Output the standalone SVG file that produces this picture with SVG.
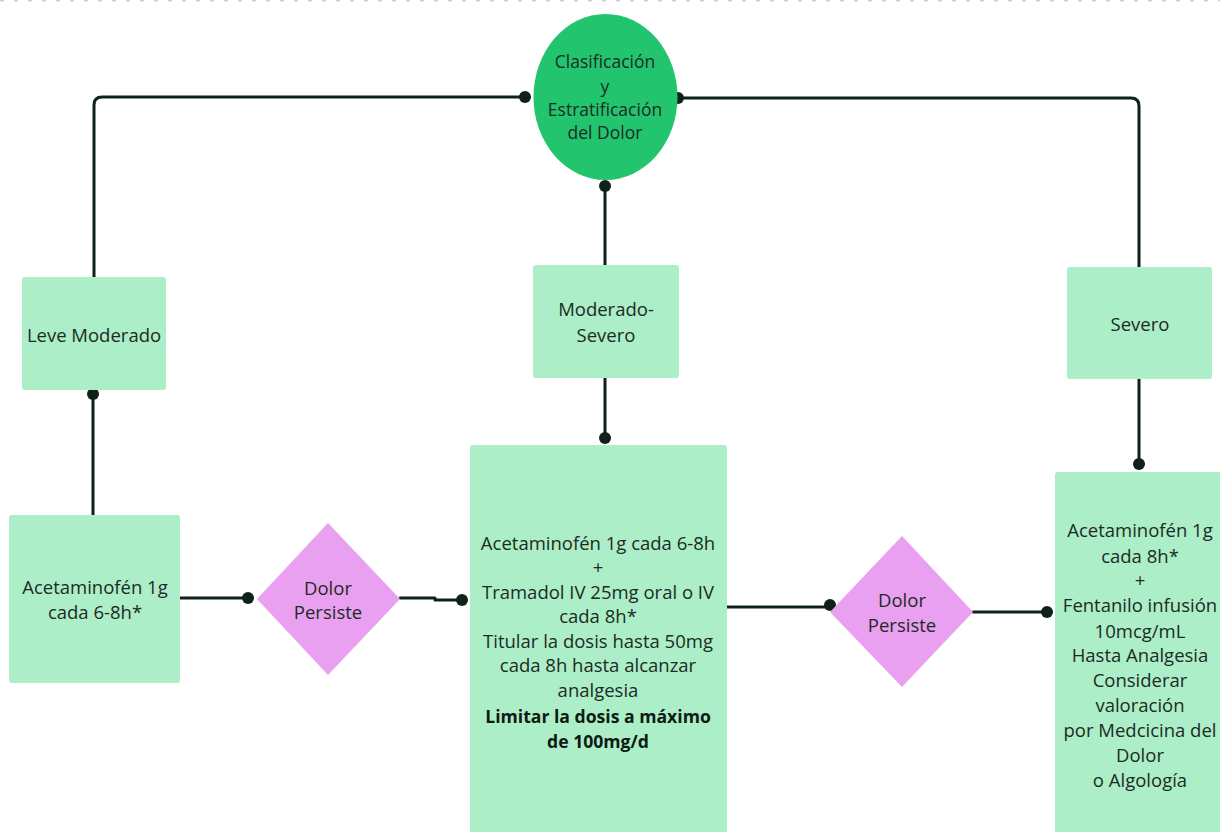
<svg xmlns="http://www.w3.org/2000/svg" width="1220" height="832" viewBox="0 0 1220 832">
  <defs>
    <style>
      .box { fill: #abeec7; }
      .dia { fill: #e9a0f0; }
      .hub { fill: #22c46e; }
      .wire { fill: none; stroke: #0f2219; stroke-width: 3; stroke-linecap: round; stroke-linejoin: round; }
      .dot { fill: #0f2219; }
      text { font-family: "Open Sans", "Liberation Sans", sans-serif; font-size: 18.5px; fill: #1d2b24; text-anchor: middle; dominant-baseline: central; }
      .hubtxt { font-size: 17.5px; }
      .b { font-weight: bold; font-size: 17.6px; fill: #0f1a14; }
      .edge { stroke: #cfcfcf; stroke-width: 2; stroke-dasharray: 4 10; }
    </style>
  </defs>
  <rect width="1220" height="832" fill="#ffffff"/>
  <line class="edge" x1="0" y1="0.5" x2="1220" y2="0.5"/>

  <!-- connectors -->
  <g id="connectors">
    <path class="wire" d="M525 97 H102 Q94 97 94 105 V277"/>
    <path class="wire" d="M678 98 H1131 Q1139 98 1139 106 V267"/>
    <path class="wire" d="M605 186 V265"/>
    <path class="wire" d="M93 394 V516"/>
    <path class="wire" d="M605 378 V438"/>
    <path class="wire" d="M1139 379 V464"/>
    <path class="wire" d="M180 598 H248"/>
    <path class="wire" d="M400 598 H435 V600 H462"/>
    <path class="wire" d="M727 607 H830"/>
    <path class="wire" d="M973 612 H1047"/>
    <circle class="dot" cx="525" cy="97" r="6"/>
    <circle class="dot" cx="678" cy="98" r="6"/>
    <circle class="dot" cx="605" cy="186" r="6"/>
    <circle class="dot" cx="93" cy="394" r="6"/>
    <circle class="dot" cx="605" cy="438" r="6"/>
    <circle class="dot" cx="1139" cy="464" r="6"/>
    <circle class="dot" cx="248" cy="598" r="6"/>
    <circle class="dot" cx="462" cy="600" r="6"/>
    <circle class="dot" cx="830" cy="605" r="6"/>
    <circle class="dot" cx="1047" cy="612" r="6"/>
  </g>

  <g id="clasificacion">
    <ellipse class="hub" cx="605.5" cy="97" rx="72" ry="83"/>
    <text class="hubtxt" x="605" y="61">Clasificación</text>
    <text class="hubtxt" x="605" y="86">y</text>
    <text class="hubtxt" x="605" y="109">Estratificación</text>
    <text class="hubtxt" x="605" y="132">del Dolor</text>
  </g>

  <g id="leve-moderado">
    <rect class="box" x="22" y="277" width="144" height="113" rx="3"/>
    <text x="94" y="334">Leve Moderado</text>
  </g>

  <g id="moderado-severo">
    <rect class="box" x="533" y="265" width="146" height="113" rx="3"/>
    <text x="606" y="308">Moderado-</text>
    <text x="606" y="334">Severo</text>
  </g>

  <g id="severo">
    <rect class="box" x="1067" y="267" width="145" height="112" rx="3"/>
    <text x="1140" y="323">Severo</text>
  </g>

  <g id="tratamiento-leve">
    <rect class="box" x="9" y="515" width="171" height="168" rx="3"/>
    <text x="95" y="586">Acetaminofén 1g</text>
    <text x="95" y="611">cada 6-8h*</text>
  </g>

  <g id="persiste-1">
    <polygon class="dia" points="328,523 400,599 328,675 257,599"/>
    <text x="328" y="587">Dolor</text>
    <text x="328" y="611">Persiste</text>
  </g>

  <g id="tratamiento-moderado">
    <rect class="box" x="470" y="445" width="257" height="400" rx="3"/>
    <text x="598" y="542">Acetaminofén 1g cada 6-8h</text>
    <text x="598" y="566">+</text>
    <text x="598" y="591">Tramadol IV 25mg oral o IV</text>
    <text x="598" y="615">cada 8h*</text>
    <text x="598" y="640">Titular la dosis hasta 50mg</text>
    <text x="598" y="664">cada 8h hasta alcanzar</text>
    <text x="598" y="689">analgesia</text>
    <text class="b" x="598" y="716">Limitar la dosis a máximo</text>
    <text class="b" x="598" y="741">de 100mg/d</text>
  </g>

  <g id="persiste-2">
    <polygon class="dia" points="902,536 973,612 902,687 830,612"/>
    <text x="902" y="599">Dolor</text>
    <text x="902" y="624">Persiste</text>
  </g>

  <g id="tratamiento-severo">
    <rect class="box" x="1055" y="472" width="175" height="380" rx="3"/>
    <text x="1140" y="529">Acetaminofén 1g</text>
    <text x="1140" y="555">cada 8h*</text>
    <text x="1140" y="579">+</text>
    <text x="1140" y="604">Fentanilo infusión</text>
    <text x="1140" y="630">10mcg/mL</text>
    <text x="1140" y="654">Hasta Analgesia</text>
    <text x="1140" y="679">Considerar</text>
    <text x="1140" y="704">valoración</text>
    <text x="1140" y="729">por Medcicina del</text>
    <text x="1140" y="754">Dolor</text>
    <text x="1140" y="779">o Algología</text>
  </g>
</svg>
